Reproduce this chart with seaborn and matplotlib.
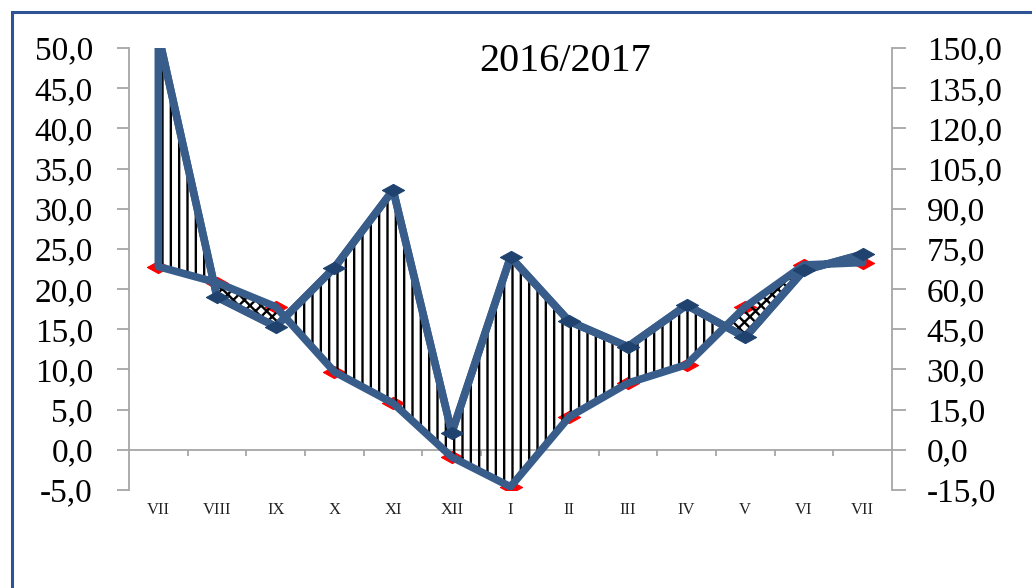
import numpy as np
import pandas as pd
import matplotlib
matplotlib.use("Agg")
import matplotlib.pyplot as plt
import seaborn as sns
from matplotlib.patches import Rectangle
from matplotlib.ticker import FuncFormatter

# values
months = ["VII", "VIII", "IX", "X", "XI", "XII", "I", "II", "III", "IV", "V", "VI", "VII"]
temperature = [22.8, 20.8, 17.8, 9.7, 5.8, -0.9, -4.6, 4.1, 8.3, 10.6, 17.8, 23.0, 23.3]
precipitation = [155.0, 57.0, 46.0, 68.0, 97.0, 6.4, 72.0, 48.0, 38.5, 54.0, 42.0, 67.0, 73.0]
title = "2016/2017"
temp_range = (-5, 50)
precip_range = (-15, 150)
temp_step = 5
precip_step = 15

ratio = precip_range[1] / temp_range[1]

df = pd.DataFrame({
    "pos": np.arange(len(months)),
    "month": months,
    "temp": temperature,
    "precip": precipitation,
})
df["precip_scaled"] = df["precip"] / ratio

BLUE = "#385D8A"
DARK_BLUE = "#1F426F"
GRAY = "#A6A6A6"
SERIF = ["Liberation Serif", "DejaVu Serif"]
# the original chart is stretched sideways, so are its diamonds
flat_diamond = [(-1, 0), (0, 0.55), (1, 0), (0, -0.55), (-1, 0)]

sns.set_style("white")
plt.rcParams["font.family"] = SERIF
plt.rcParams["hatch.linewidth"] = 1.7

fig = plt.figure(figsize=(10.32, 5.88), dpi=100)
ax = fig.add_axes([129 / 1032, 98 / 588, 763 / 1032, 442 / 588])
ax2 = ax.twinx()

# blue frame of the chart area (top and left edges visible)
fig.add_artist(Rectangle((12 / 1032, -0.5), 2.0, 1.5 - 11.5 / 588,
                         transform=fig.transFigure, fill=False,
                         edgecolor="#2F5496", linewidth=2.2, clip_on=False))

# temperature line (under the polygon outline)
sns.lineplot(data=df, x="pos", y="temp", ax=ax, color="red", lw=3,
             marker=flat_diamond, markersize=16, markeredgecolor="red", zorder=2)

# hatched areas between the two curves
wet = df["precip_scaled"] >= df["temp"]
ax.fill_between(df["pos"], df["temp"], df["precip_scaled"], where=wet,
                interpolate=True, facecolor="none", edgecolor="black",
                linewidth=0, hatch="||", zorder=3)
ax.fill_between(df["pos"], df["temp"], df["precip_scaled"], where=~wet,
                interpolate=True, facecolor="none", edgecolor="black",
                linewidth=0, hatch="xxx", zorder=3)
ax.fill_between(df["pos"], df["temp"], df["precip_scaled"],
                facecolor="none", edgecolor=BLUE, linewidth=5.5, zorder=4)

# precipitation line on the right axis
sns.lineplot(data=df, x="pos", y="precip", ax=ax2, color=BLUE, lw=5.5,
             marker=flat_diamond, markersize=16, markerfacecolor=DARK_BLUE,
             markeredgecolor=DARK_BLUE, zorder=5)

ax.set_xlim(-0.5, len(months) - 0.5)
ax.set_ylim(*temp_range)
ax2.set_ylim(*precip_range)
ax.set_xlabel("")
ax.set_ylabel("")
ax2.set_ylabel("")

fmt = FuncFormatter(lambda v, _: f"{v:.1f}".replace(".", ","))
ax.set_yticks(np.arange(temp_range[0], temp_range[1] + 1, temp_step))
ax2.set_yticks(np.arange(precip_range[0], precip_range[1] + 1, precip_step))
ax.yaxis.set_major_formatter(fmt)
ax2.yaxis.set_major_formatter(fmt)

ax.set_xticks(df["pos"], labels=months)
ax.set_xticks(df["pos"][:-1] + 0.5, minor=True)

for s in ["bottom", "right"]:
    ax.spines[s].set_visible(False)
for s in ["bottom", "top", "left"]:
    ax2.spines[s].set_visible(False)
ax.spines["top"].set_position(("data", 0))
ax.spines["top"].set_color(GRAY)
ax.spines["top"].set_linewidth(1.3)
ax.spines["left"].set_color(GRAY)
ax.spines["left"].set_linewidth(1.3)
ax2.spines["right"].set_color(GRAY)
ax2.spines["right"].set_linewidth(1.3)

ax.tick_params(axis="y", direction="out", length=9, width=1.3, color=GRAY,
               pad=17, labelsize=24, labelcolor="black")
ax2.tick_params(axis="y", direction="out", length=10, width=1.3, color=GRAY,
                pad=15, labelsize=24, labelcolor="black")
ax.tick_params(axis="x", which="major", bottom=True, top=False, length=0,
               pad=9, labelsize=12, labelcolor="#222222")
ax.tick_params(axis="x", which="minor", bottom=False, top=True, direction="in",
               length=4, width=1.3, color=GRAY)

ax.text(0.571, 0.97, title, transform=ax.transAxes, ha="center", va="center",
        fontsize=29, color="black")

fig.savefig("out.png", dpi=100)
